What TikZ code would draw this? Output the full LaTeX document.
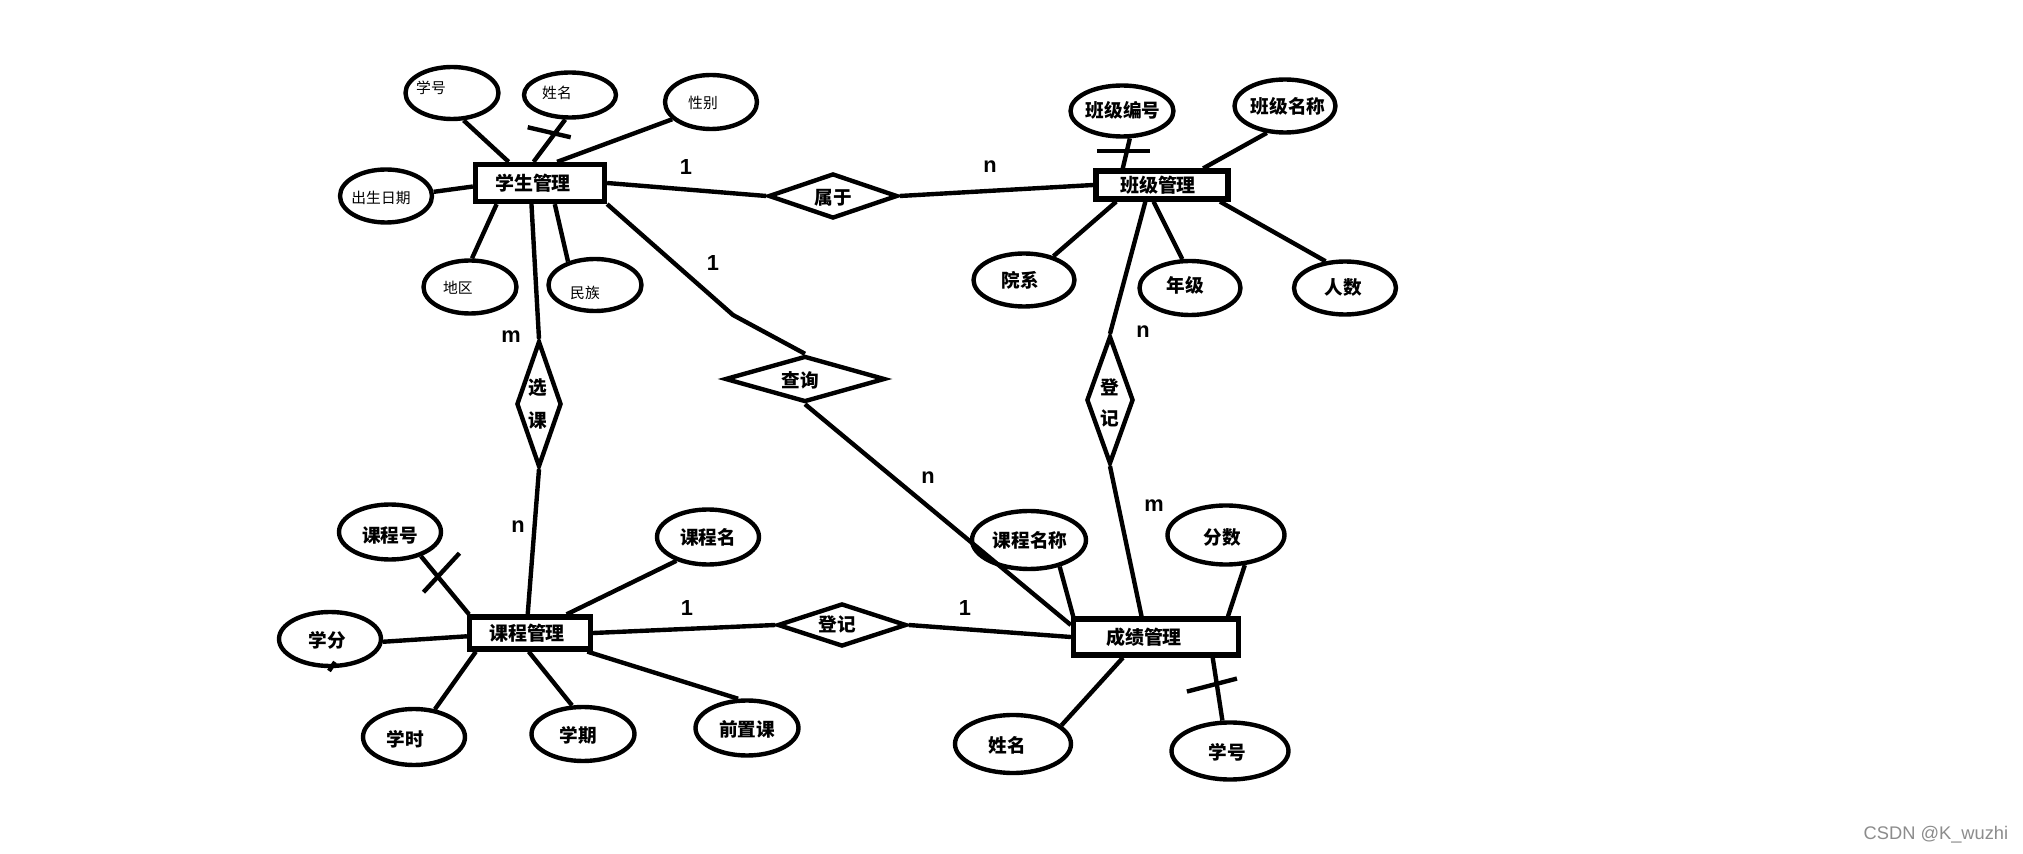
\documentclass[tikz,border=0pt]{standalone}
\usepackage{fontspec}
\newfontfamily\cjk{Noto Sans CJK SC}
\newfontfamily\lab{Liberation Sans}
\usetikzlibrary{shapes.geometric,calc}
\definecolor{wmgray}{RGB}{140,140,140}
\begin{document}
\begin{tikzpicture}[x=0.1mm,y=-0.1mm,
  ent/.style 2 args={draw,rectangle,line width=1.5pt,inner sep=0pt,minimum width=#1,minimum height=#2,font=\cjk\bfseries\fontsize{5.4pt}{6pt}\selectfont},
  attr/.style 2 args={draw,ellipse,line width=1.25pt,inner sep=0pt,minimum width=#1,minimum height=#2},
  rel/.style 2 args={draw,diamond,line width=1.25pt,inner sep=0pt,minimum width=#1,minimum height=#2},
  btxt/.style={inner sep=0pt,font=\cjk\bfseries\fontsize{5.3pt}{6pt}\selectfont},
  stxt/.style={inner sep=0pt,font=\cjk\fontsize{4.2pt}{5pt}\selectfont},
  lbl/.style={inner sep=0pt,font=\lab\bfseries\fontsize{6.2pt}{7pt}\selectfont},
  conn/.style={line width=1.25pt},
]
\fill[white] (0,0) rectangle (2023,854);
\useasboundingbox (0,0) rectangle (2023,854);

% entities
\node[ent={12.9mm}{3.7mm}] (stu) at (540,183) {学生管理\hspace*{1.4mm}};
\node[ent={13.2mm}{2.8mm}] (cls) at (1162,185) {班级管理\hspace*{0.8mm}};
\node[ent={12.1mm}{3.2mm}] (crs) at (530,633) {课程管理\hspace*{0.6mm}};
\node[ent={16.5mm}{3.6mm}] (grd) at (1156,637) {成绩管理\hspace*{2.4mm}};

% student attributes
\node[attr={9.3mm}{5.2mm}] (a1) at (452,93) {};
\node[stxt] (ta1) at (431,88) {学号};
\node[attr={9.2mm}{4.5mm}] (a2) at (570,95) {};
\node[stxt] (ta2) at (557,93) {姓名};
\node[attr={9.2mm}{5.4mm}] (a3) at (711,102) {};
\node[stxt] (ta3) at (703,103) {性别};
\node[attr={9.2mm}{5.3mm}] (a4) at (386,196) {};
\node[stxt] (ta4) at (381,198) {出生日期};
\node[attr={9.3mm}{5.3mm}] (a5) at (470,287) {};
\node[stxt] (ta5) at (458,288) {地区};
\node[attr={9.3mm}{5.2mm}] (a6) at (595,285) {};
\node[stxt] (ta6) at (585,293) {民族};

% class attributes
\node[attr={10.3mm}{5.1mm}] (b1) at (1122,111) {};
\node[btxt] (tb1) at (1123,110) {班级编号};
\node[attr={10.1mm}{5.3mm}] (b2) at (1285,106) {};
\node[btxt] (tb2) at (1288,106) {班级名称};
\node[attr={10.1mm}{5.3mm}] (b3) at (1024,280) {};
\node[btxt] (tb3) at (1020,280) {院系};
\node[attr={10.1mm}{5.4mm}] (b4) at (1190,288) {};
\node[btxt] (tb4) at (1185,285) {年级};
\node[attr={10.2mm}{5.3mm}] (b5) at (1345,288) {};
\node[btxt] (tb5) at (1343,287) {人数};

% course attributes
\node[attr={10.2mm}{5.5mm}] (c1) at (390,532) {};
\node[btxt] (tc1) at (390,535) {课程号};
\node[attr={10.2mm}{5.4mm}] (c2) at (330,639) {};
\node[btxt] (tc2) at (327,640) {学分};
\node[attr={10.2mm}{5.6mm}] (c3) at (414,737) {};
\node[btxt] (tc3) at (405,739) {学时};
\node[attr={10.3mm}{5.4mm}] (c4) at (583,734) {};
\node[btxt] (tc4) at (578,735) {学期};
\node[attr={10.2mm}{5.5mm}] (c5) at (708,537) {};
\node[btxt] (tc5) at (708,537) {课程名};
\node[attr={10.3mm}{5.5mm}] (c6) at (747,728) {};
\node[btxt] (tc6) at (747,729) {前置课};

% grade attributes
\node[attr={11.4mm}{5.8mm}] (d1) at (1029,540) {};
\node[btxt] (td1) at (1030,540) {课程名称};
\node[attr={11.7mm}{5.9mm}] (d2) at (1226,535) {};
\node[btxt] (td2) at (1222,537) {分数};
\node[attr={11.7mm}{5.7mm}] (d3) at (1230,751) {};
\node[btxt] (td3) at (1227,752) {学号};
\node[attr={11.6mm}{5.8mm}] (d4) at (1013,744) {};
\node[btxt] (td4) at (1007,745) {姓名};

% relationships
\node[rel={12.9mm}{4.5mm}] (sy) at (833,196) {};
\node[btxt] (tsy) at (833,198) {属于};
\node[rel={16.0mm}{4.6mm}] (cx) at (805,379) {};
\node[btxt] (tcx) at (800,380) {查询};
\node[rel={4.5mm}{12.6mm}] (xk) at (539,404) {};
\node[btxt] (txk1) at (538,388) {选};
\node[btxt] (txk2) at (538,420) {课};
\node[rel={4.7mm}{12.8mm}] (dj1) at (1110,400) {};
\node[btxt] (tdj1a) at (1110,387) {登};
\node[btxt] (tdj1b) at (1110,418) {记};
\node[rel={12.9mm}{4.3mm}] (dj2) at (842,625) {};
\node[btxt] (tdj2) at (837,624) {登记};

\coordinate (qbend) at (733,315);

% student connectors
\draw[conn] (a1.-67) -- (stu.146);
\draw[conn] (a2.-101) -- coordinate[pos=0.30] (k1) (stu.107);
\draw[conn] ($(k1)+(-28,-5)$) -- ($(k1)+(15,5)$);
\draw[conn] (a3.-156) -- (stu.51);
\draw[conn] (a4.5) -- (stu.183);
\draw[conn] (a5.86) -- (stu.-154);
\draw[conn] (a6.139) -- (stu.-55);
\draw[conn] (stu.-112) -- (xk.north);
\draw[conn] (stu.east) -- (sy.west);
\draw[conn] (sy.east) -- (cls.west);
\draw[conn] (stu.south east) -- (qbend) -- (cx.north);
\draw[conn] (cx.south) -- (grd.172);

% class connectors
\draw[conn] (b1.-74) -- coordinate[pos=0.43] (k2) (cls.157);
\draw[conn] ($(k2)+(-30,0)$) -- ($(k2)+(23,0)$);
\draw[conn] (b2.-124) -- (cls.22);
\draw[conn] (b3.39) -- (cls.-160);
\draw[conn] (b4.105) -- (cls.-117);
\draw[conn] (b5.126) -- (cls.-16);
\draw[conn] (cls.-135) -- (dj1.north);
\draw[conn] (dj1.south) -- (grd.125);

% course connectors
\draw[conn] (xk.south) -- (crs.97);
\draw[conn] (c1.-38) -- coordinate[pos=0.344] (k3) (crs.163);
\draw[conn] ($(k3)+(-14,16)$) -- ($(k3)+(22,-23)$);
\draw[conn] (c2.-3) -- (crs.183);
\draw[conn] ($(c2)+(5,23)$) -- ($(c2)+(-1,32)$);
\draw[conn] (c3.53) -- (crs.-161);
\draw[conn] (c4.111) -- (crs.-94);
\draw[conn] (c5.-143) -- (crs.27);
\draw[conn] (c6.107) -- (crs.-18);
\draw[conn] (crs.east) -- (dj2.west);
\draw[conn] (dj2.east) -- (grd.west);

% grade connectors
\draw[conn] (d1.-41) -- (grd.166);
\draw[conn] (d2.-58) -- (grd.16);
\draw[conn] (d3.104) -- coordinate[pos=0.564] (k4) (grd.-20);
\draw[conn] ($(k4)+(-30,6.5)$) -- ($(k4)+(20,-6.5)$);
\draw[conn] (d4.21) -- (grd.-148);

% cardinality labels
\node[lbl] (l1) at (686,167) {1};
\node[lbl] (l2) at (990,167) {n};
\node[lbl] (l3) at (713,263) {1};
\node[lbl] (l4) at (511,337) {m};
\node[lbl] (l5) at (518,527) {n};
\node[lbl] (l6) at (1143,332) {n};
\node[lbl] (l7) at (928,478) {n};
\node[lbl] (l8) at (1154,506) {m};
\node[lbl] (l9) at (687,608) {1};
\node[lbl] (l10) at (965,608) {1};

% watermark
\node[anchor=west,inner sep=0pt,text=wmgray,font=\lab\fontsize{5.2pt}{6pt}\selectfont] (wm) at (1863,835) {CSDN @K\_wuzhi};
\end{tikzpicture}
\end{document}
